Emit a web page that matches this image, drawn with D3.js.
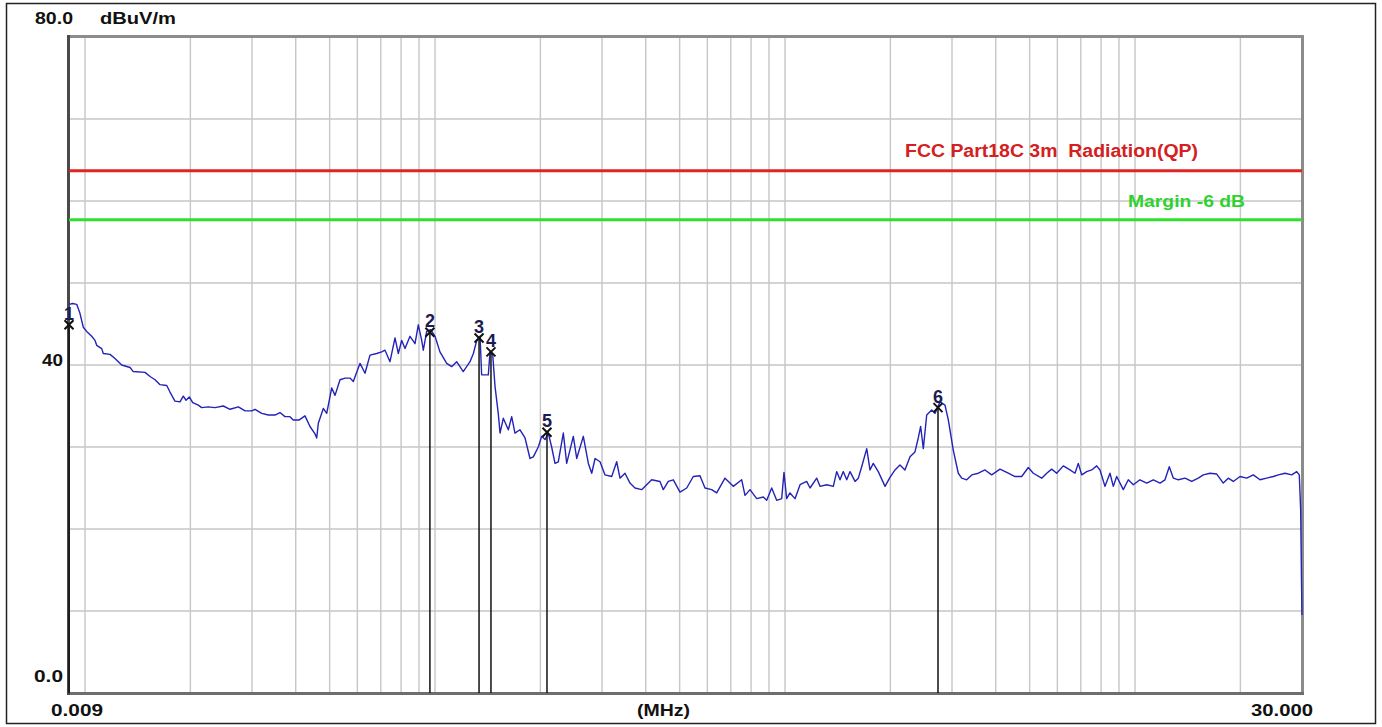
<!DOCTYPE html>
<html>
<head>
<meta charset="utf-8">
<title>Radiated emission scan</title>
<script src="https://cdn.jsdelivr.net/npm/d3@7"></script>
<style>
  html, body { margin: 0; padding: 0; background: #fff; }
  svg { display: block; }
  text { font-family: "Liberation Sans", Arial, sans-serif; font-weight: bold; }
</style>
</head>
<body>
<svg id="chart" width="1382" height="727"></svg>
<script>
// Frequency (MHz) of each sweep point
const freqMHz = [
  0.00900, 0.00922, 0.009468, 0.009672, 0.009888, 0.01011, 0.01045, 0.01068, 0.01080, 0.01116,
  0.01128, 0.01179, 0.01218, 0.01273, 0.01345, 0.01374, 0.01484, 0.01534, 0.01585, 0.01638,
  0.01712, 0.01749, 0.01807, 0.01868, 0.01909, 0.01944, 0.01986, 0.02031, 0.02107, 0.02154,
  0.02250, 0.02351, 0.02484, 0.02596, 0.02742, 0.02866, 0.02994, 0.03060, 0.03198, 0.03340,
  0.03489, 0.03606, 0.03726, 0.03851, 0.03936, 0.04095, 0.04251, 0.04393, 0.04541, 0.04592,
  0.04641, 0.04796, 0.04904, 0.05068, 0.05180, 0.05353, 0.05532, 0.05717, 0.05842, 0.06106,
  0.06309, 0.06520, 0.06814, 0.07042, 0.07196, 0.07437, 0.07686, 0.07855, 0.08032, 0.08209,
  0.08483, 0.08767, 0.08959, 0.09162, 0.09259, 0.09468, 0.09721, 0.1000, 0.1033, 0.1080,
  0.1116, 0.1153, 0.1204, 0.1259, 0.1287, 0.1316, 0.1345, 0.1359, 0.1420, 0.1436,
  0.1462, 0.1484, 0.1516, 0.1534, 0.1567, 0.1620, 0.1656, 0.1692, 0.1749, 0.1808,
  0.1868, 0.1909, 0.1973, 0.2017, 0.2062, 0.2107, 0.2154, 0.2202, 0.2250, 0.2326,
  0.2378, 0.2484, 0.2540, 0.2653, 0.2742, 0.2804, 0.2866, 0.2961, 0.3060, 0.3198,
  0.3304, 0.3377, 0.3490, 0.3606, 0.3727, 0.3895, 0.4025, 0.4159, 0.4393, 0.4490,
  0.4640, 0.4796, 0.5012, 0.5238, 0.5470, 0.5716, 0.5907, 0.6173, 0.6379, 0.6738,
  0.7116, 0.7520, 0.7686, 0.7943, 0.8301, 0.8670, 0.8866, 0.9162, 0.9467, 0.9784,
  0.9933, 1.011, 1.033, 1.068, 1.104, 1.153, 1.179, 1.232, 1.259, 1.316,
  1.374, 1.405, 1.436, 1.467, 1.501, 1.534, 1.585, 1.620, 1.656, 1.712,
  1.749, 1.787, 1.847, 1.931, 1.995, 2.062, 2.130, 2.201, 2.276, 2.351,
  2.403, 2.441, 2.484, 2.540, 2.625, 2.683, 2.773, 2.865, 2.928, 3.026,
  3.127, 3.198, 3.305, 3.416, 3.567, 3.727, 3.895, 4.114, 4.345, 4.540,
  4.745, 4.956, 5.122, 5.413, 5.594, 5.781, 5.973, 6.239, 6.520, 6.738,
  6.886, 7.042, 7.278, 7.520, 7.772, 7.943, 8.207, 8.482, 8.670, 8.866,
  9.258, 9.568, 9.888, 10.33, 10.80, 11.28, 11.79, 12.18, 12.53, 12.87,
  13.30, 13.90, 14.52, 15.16, 15.67, 16.38, 17.12, 17.87, 18.47, 19.09,
  19.95, 20.85, 21.78, 22.76, 23.78, 24.84, 25.67, 26.83, 28.04, 28.97,
  29.47, 29.74, 29.90, 30.00
];

// Measured field strength (dBuV/m) at each sweep point
const levelDb = [
  47.4, 47.5, 47.4, 46.3, 44.6, 44.1, 43.5, 43.0, 42.4, 42.0,
  41.4, 41.3, 40.8, 40.0, 39.7, 39.2, 39.1, 38.6, 38.2, 37.6,
  37.5, 36.7, 35.6, 35.5, 36.2, 35.7, 36.1, 35.4, 35.1, 34.8,
  34.9, 34.8, 35.0, 34.6, 34.9, 34.4, 34.4, 34.6, 34.1, 33.9,
  33.9, 34.2, 33.7, 33.7, 33.3, 33.3, 33.8, 32.5, 31.6, 31.1,
  32.9, 34.7, 34.1, 37.2, 36.3, 38.2, 38.4, 38.4, 38.0, 40.2,
  39.0, 41.2, 41.4, 41.6, 41.8, 40.4, 43.3, 41.4, 43.0, 42.0,
  43.5, 42.6, 44.9, 43.0, 41.8, 44.1, 44.3, 43.5, 41.6, 40.2,
  39.8, 40.4, 39.2, 40.4, 41.4, 43.0, 43.5, 38.8, 38.8, 41.6,
  41.2, 37.4, 34.1, 31.7, 33.5, 32.1, 33.7, 31.7, 32.1, 31.1,
  28.6, 28.8, 30.0, 31.3, 30.9, 31.7, 30.0, 28.0, 28.2, 31.7,
  28.0, 31.3, 28.6, 31.3, 28.0, 26.8, 28.6, 28.2, 26.6, 26.4,
  28.2, 26.2, 26.8, 25.6, 25.0, 24.8, 25.4, 26.0, 25.8, 24.8,
  25.8, 26.0, 24.5, 25.0, 26.4, 26.5, 25.0, 24.8, 24.4, 26.2,
  25.2, 26.0, 24.1, 24.8, 23.7, 23.9, 23.5, 25.0, 23.5, 23.7,
  26.9, 23.7, 24.4, 23.7, 25.4, 25.8, 25.0, 26.2, 25.2, 25.4,
  25.2, 27.0, 26.0, 27.0, 26.0, 27.0, 25.8, 26.2, 27.6, 29.8,
  27.2, 28.0, 27.0, 25.2, 26.3, 27.2, 27.8, 27.2, 28.8, 29.4,
  31.1, 32.5, 29.8, 33.9, 34.5, 34.1, 35.5, 35.1, 33.3, 29.6,
  26.8, 26.2, 26.0, 26.6, 26.8, 27.2, 26.6, 27.3, 26.8, 26.4,
  26.4, 27.5, 26.8, 26.2, 26.8, 27.3, 26.8, 27.7, 27.2, 26.8,
  28.0, 26.6, 27.0, 27.2, 27.7, 27.2, 25.2, 26.8, 25.2, 26.4,
  24.8, 26.0, 25.4, 26.0, 25.6, 26.0, 25.6, 26.0, 27.6, 26.2,
  26.0, 26.2, 25.8, 26.2, 26.6, 26.8, 26.7, 25.6, 26.2, 25.8,
  26.4, 26.2, 26.6, 26.0, 26.2, 26.4, 26.6, 26.8, 26.6, 27.0,
  26.6, 22.3, 13.8, 9.5
];

// Quasi-peak readings at the marked frequencies
const markerNo = [1, 2, 3, 4, 5, 6];
const markerFreqMHz = [0.009, 0.0967, 0.1336, 0.1445, 0.2089, 2.736];
const markerDb = [44.9, 44.0, 43.3, 41.6, 31.8, 34.8];

// Limit line and its margin line
const limitDb = 63.7;
const marginDb = 57.7;
const limitLabel = "FCC Part18C 3m  Radiation(QP)";
const marginLabel = "Margin -6 dB";

// Axis labels
const yTickValues = [80, 40, 0];
const yTickText = ["80.0", "40", "0.0"];
const xTickValues = [0.009, 30];
const xTickText = ["0.009", "30.000"];
const yUnit = "dBuV/m";
const xUnit = "(MHz)";

const svg = d3.select("#chart");
const W = 1382, H = 727;
const plot = { left: 69, right: 1302, top: 37, bottom: 693 };

const x = d3.scaleLog().domain([0.009, 30]).range([plot.left, plot.right]);
const y = d3.scaleLinear().domain([0, 80]).range([plot.bottom, plot.top]);

svg.append("rect").attr("width", W).attr("height", H).attr("fill", "#fff");

// outer frame
svg.append("rect")
  .attr("x", 6.5).attr("y", 3.5)
  .attr("width", 1369).attr("height", 720)
  .attr("fill", "none").attr("stroke", "#222").attr("stroke-width", 1.5);

// grid
const grid = svg.append("g").attr("stroke", "#c6c6c6").attr("stroke-width", 1.4);
x.ticks().filter(f => f > 0.0091 && f < 29.9).forEach(f => {
  grid.append("line")
    .attr("x1", x(f)).attr("x2", x(f))
    .attr("y1", plot.top).attr("y2", plot.bottom);
});
y.ticks(8).filter(v => v > 0 && v < 80).forEach(v => {
  grid.append("line")
    .attr("x1", plot.left).attr("x2", plot.right)
    .attr("y1", y(v)).attr("y2", y(v));
});

// plot frame: lighter top/right, darker left/bottom
svg.append("line").attr("x1", plot.left).attr("x2", plot.right + 1.5)
  .attr("y1", plot.top - 0.5).attr("y2", plot.top - 0.5)
  .attr("stroke", "#8c8c8c").attr("stroke-width", 3);
svg.append("line").attr("x1", plot.right + 0.5).attr("x2", plot.right + 0.5)
  .attr("y1", plot.top - 2).attr("y2", plot.bottom + 1.5)
  .attr("stroke", "#8c8c8c").attr("stroke-width", 3);
svg.append("line").attr("x1", plot.left - 1).attr("x2", plot.right + 2)
  .attr("y1", plot.bottom + 0.5).attr("y2", plot.bottom + 0.5)
  .attr("stroke", "#6e6e6e").attr("stroke-width", 3);
svg.append("line").attr("x1", plot.left - 0.5).attr("x2", plot.left - 0.5)
  .attr("y1", plot.top - 2).attr("y2", plot.bottom + 2)
  .attr("stroke", "#4a4a4a").attr("stroke-width", 3);

// limit and margin lines
svg.append("line")
  .attr("x1", plot.left).attr("x2", plot.right)
  .attr("y1", y(limitDb)).attr("y2", y(limitDb))
  .attr("stroke", "#e02424").attr("stroke-width", 3);
svg.append("line")
  .attr("x1", plot.left).attr("x2", plot.right)
  .attr("y1", y(marginDb)).attr("y2", y(marginDb))
  .attr("stroke", "#2ee02e").attr("stroke-width", 3);

svg.append("text")
  .attr("x", 905).attr("y", y(limitDb) - 14)
  .attr("fill", "#d42020").attr("font-size", 18)
  .style("white-space", "pre")
  .attr("textLength", 293).attr("lengthAdjust", "spacingAndGlyphs")
  .text(limitLabel);
svg.append("text")
  .attr("x", 1128).attr("y", y(marginDb) - 13)
  .attr("fill", "#2ed22e").attr("font-size", 17)
  .attr("textLength", 117).attr("lengthAdjust", "spacingAndGlyphs")
  .text(marginLabel);

// spectrum trace
const trace = freqMHz.map((f, i) => [f, levelDb[i]]);
svg.append("path")
  .datum(trace)
  .attr("fill", "none")
  .attr("stroke", "#2323b8")
  .attr("stroke-width", 1.4)
  .attr("stroke-linejoin", "round")
  .attr("d", d3.line().x(d => x(d[0])).y(d => y(d[1])));

// markers
const mk = svg.append("g");
markerNo.forEach((n, i) => {
  const mx = x(markerFreqMHz[i]), my = y(markerDb[i]);
  mk.append("line")
    .attr("x1", mx).attr("x2", mx).attr("y1", my).attr("y2", plot.bottom)
    .attr("stroke", "#111").attr("stroke-width", 1.5);
  const s = 4.5;
  mk.append("path")
    .attr("d", `M${mx - s},${my - s}L${mx + s},${my + s}M${mx - s},${my + s}L${mx + s},${my - s}`)
    .attr("stroke", "#111").attr("stroke-width", 2).attr("fill", "none");
  mk.append("text")
    .attr("x", mx).attr("y", my - 5)
    .attr("text-anchor", "middle")
    .attr("font-family", "'Liberation Serif', 'Times New Roman', serif")
    .attr("font-size", 18)
    .attr("fill", "#1c1c50")
    .text(n);
});

// y-axis labels
const yLabelPos = { 80: { right: 73, base: 24, len: 38 }, 40: { right: 63, base: 366, len: 21 }, 0: { right: 63, base: 682, len: 29 } };
yTickValues.forEach((v, i) => {
  const p = yLabelPos[v];
  svg.append("text")
    .attr("x", p.right - p.len).attr("y", p.base)
    .attr("font-size", 17).attr("fill", "#111")
    .attr("textLength", p.len).attr("lengthAdjust", "spacingAndGlyphs")
    .text(yTickText[i]);
});
svg.append("text")
  .attr("x", 100).attr("y", 24)
  .attr("font-size", 17).attr("fill", "#111")
  .attr("textLength", 76).attr("lengthAdjust", "spacingAndGlyphs")
  .text(yUnit);

// x-axis labels
const xLabelPos = [{ left: 51, len: 52 }, { left: 1251, len: 62 }];
xTickValues.forEach((v, i) => {
  svg.append("text")
    .attr("x", xLabelPos[i].left).attr("y", 716)
    .attr("font-size", 17).attr("fill", "#111")
    .attr("textLength", xLabelPos[i].len).attr("lengthAdjust", "spacingAndGlyphs")
    .text(xTickText[i]);
});
svg.append("text")
  .attr("x", 637).attr("y", 716)
  .attr("font-size", 17).attr("fill", "#111")
  .attr("textLength", 53).attr("lengthAdjust", "spacingAndGlyphs")
  .text(xUnit);
</script>
</body>
</html>
